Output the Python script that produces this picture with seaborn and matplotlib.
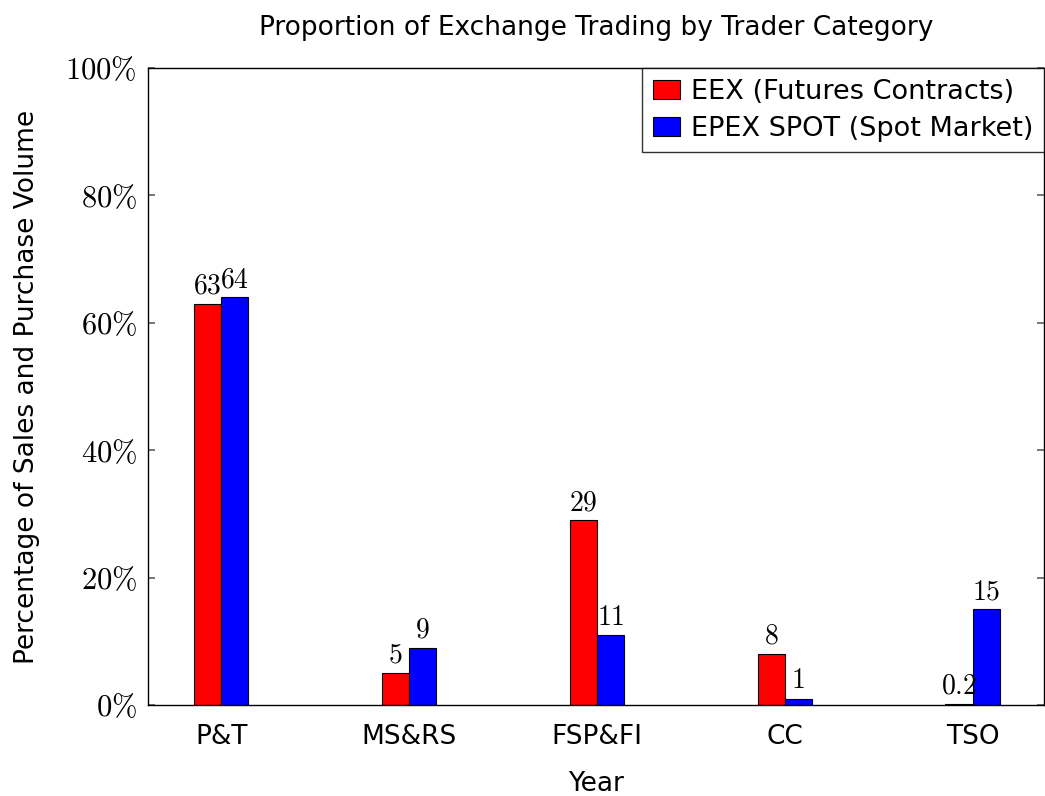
import pandas as pd
import matplotlib
matplotlib.use("Agg")
import matplotlib.pyplot as plt
import seaborn as sns

categories = ["P&T", "MS&RS", "FSP&FI", "CC", "TSO"]
eex = [63, 5, 29, 8, 0.2]
epex = [64, 9, 11, 1, 15]
series = ["EEX (Futures Contracts)", "EPEX SPOT (Spot Market)"]

df = pd.DataFrame({
    "cat": categories * 2,
    "market": [series[0]] * len(categories) + [series[1]] * len(categories),
    "val": eex + epex,
})

sns.set_theme(style="white")
plt.rcParams["font.family"] = ["DejaVu Sans"]
plt.rcParams["mathtext.fontset"] = "cm"
plt.rcParams["text.color"] = "black"
plt.rcParams["axes.labelcolor"] = "black"
plt.rcParams["xtick.color"] = "black"
plt.rcParams["ytick.color"] = "black"

fig = plt.figure(figsize=(10.45, 7.96), dpi=100)
ax = fig.add_axes([0.1416, 0.1143, 0.8574, 0.8003])

sns.barplot(data=df, x="cat", y="val", hue="market", palette=["#ff0000", "#0000ff"],
            width=0.29, edgecolor="black", linewidth=0.8, ax=ax, saturation=1)

for cont, vals in zip(ax.containers, [eex, epex]):
    ax.bar_label(cont, labels=[f"${v:g}$" for v in vals], padding=3, fontsize=20)

ax.set_xlim(-0.39, 4.38)
ax.set_ylim(0, 100)
ax.set_yticks([0, 20, 40, 60, 80, 100])
ax.set_yticklabels([f"${t}\\%$" for t in [0, 20, 40, 60, 80, 100]], fontsize=22)
ax.tick_params(axis="y", direction="in", left=True, right=True, length=5,
               color="#666666", labelcolor="black", pad=8)
ax.tick_params(axis="x", bottom=False, labelsize=19, pad=8)
for s in ax.spines.values():
    s.set_color("black")
    s.set_linewidth(1)

ax.set_title("Proportion of Exchange Trading by Trader Category", fontsize=19, pad=24)
ax.set_xlabel("Year", fontsize=19, labelpad=15)
ax.set_ylabel("Percentage of Sales and Purchase Volume", fontsize=19, labelpad=18)

leg = ax.legend(loc="upper right", fontsize=19.5, frameon=True, fancybox=False,
                edgecolor="black", borderaxespad=0, handlelength=1.0, handletextpad=0.4,
                borderpad=0.4, labelspacing=0.4)
leg.get_frame().set_linewidth(1)

fig.savefig("out.png", dpi=100)
